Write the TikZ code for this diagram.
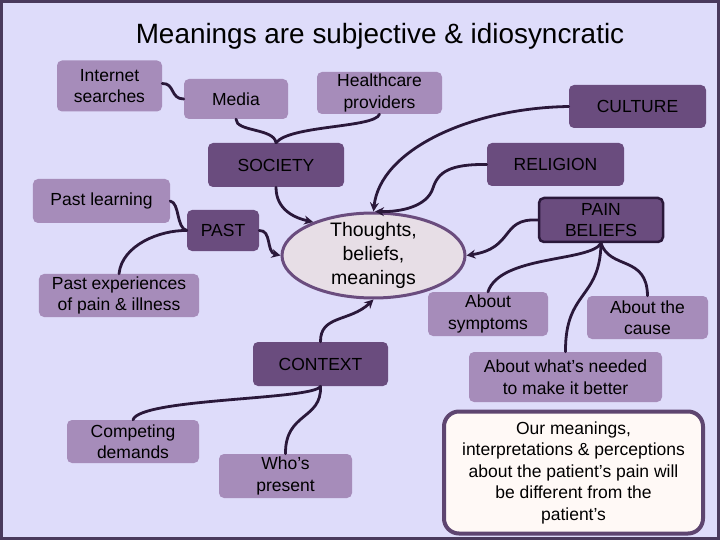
\documentclass[tikz,border=0pt]{standalone}
\usepackage{fontspec}
\setmainfont{Liberation Sans}
\usetikzlibrary{arrows.meta,shapes.geometric}
\definecolor{bgc}{RGB}{222,220,250}
\definecolor{framec}{RGB}{74,58,92}
\definecolor{lightc}{RGB}{166,140,186}
\definecolor{darkc}{RGB}{106,76,126}
\definecolor{linec}{RGB}{42,24,58}
\definecolor{ellfill}{RGB}{231,222,230}
\definecolor{ourfill}{RGB}{255,249,246}
\definecolor{ourdraw}{RGB}{94,69,112}
\begin{document}
\begin{tikzpicture}[x=1bp,y=-1bp,
  boxtext/.style={font=\fontsize{17.5bp}{21.5bp}\selectfont, align=center, inner sep=0pt, text=black},
  lightbox/.style={boxtext, fill=lightc, rounded corners=5bp},
  darkbox/.style={boxtext, fill=darkc, rounded corners=5bp},
  conn/.style={draw=linec, line width=2.8bp, line cap=round},
  arr/.style={conn, -{Stealth[length=9bp,width=9bp,inset=3bp]}}]
\useasboundingbox (0,0) rectangle (720,540);
\fill[bgc] (0,0) rectangle (720,540);
\draw[framec, line width=3bp] (1.5,1.5) rectangle (718.5,538.5);

\node[anchor=base, font=\fontsize{27.9bp}{33bp}\selectfont] (title) at (380,43.5) {Meanings are subjective \& idiosyncratic};

\node[lightbox, minimum width=105bp, minimum height=51bp] (internet) at (109.5,86) {Internet\\searches};
\node[lightbox, minimum width=104bp, minimum height=40bp] (media) at (236,99) {Media};
\node[lightbox, minimum width=125bp, minimum height=42bp] (health) at (379.5,93) {Healthcare\\providers};
\node[darkbox, minimum width=137bp, minimum height=43bp] (culture) at (637.5,106.5) {CULTURE};
\node[darkbox, minimum width=136bp, minimum height=44bp] (society) at (276,165) {SOCIETY};
\node[darkbox, minimum width=137bp, minimum height=43bp] (religion) at (555.5,164.5) {RELIGION};
\node[lightbox, minimum width=137bp, minimum height=44bp] (pastlearn) at (101.5,201) {Past learning};
\node[darkbox, minimum width=72bp, minimum height=41bp] (past) at (223,230.5) {PAST};
\node[lightbox, minimum width=160bp, minimum height=43bp] (pastexp) at (119,295.5) {Past experiences\\of pain \& illness};
\node[ellipse, draw=darkc, line width=3bp, fill=ellfill, minimum width=183bp, minimum height=85bp, inner sep=-10bp, align=center, font=\fontsize{19.5bp}{24bp}\selectfont] (thoughts) at (373.5,255.5) {Thoughts,\\beliefs,\\meanings};
\node[darkbox, draw=linec, line width=2.5bp, minimum width=124bp, minimum height=44bp] (pain) at (601,220) {PAIN\\BELIEFS};
\node[lightbox, minimum width=120bp, minimum height=44bp] (symptoms) at (488,314) {About\\symptoms};
\node[lightbox, minimum width=121bp, minimum height=43bp] (cause) at (647.5,317.5) {About the\\cause};
\node[darkbox, minimum width=135bp, minimum height=44bp] (context) at (320.5,364) {CONTEXT};
\node[lightbox, minimum width=132bp, minimum height=43bp] (competing) at (133,441.5) {Competing\\demands};
\node[lightbox, minimum width=133bp, minimum height=44bp] (whos) at (285.5,476) {Who’s\\present};
\node[lightbox, minimum width=193bp, minimum height=50bp] (needed) at (565.5,377) {About what’s needed\\to make it better};
\node[boxtext, draw=ourdraw, line width=4bp, fill=ourfill, rounded corners=15bp, minimum width=259bp, minimum height=122bp] (ours) at (573.5,472.5) {Our meanings,\\interpretations \& perceptions\\about the patient’s pain will\\be different from the\\patient’s};

% connectors
\draw[conn] ([yshift=2.5bp]internet.east) .. controls (175,83) and (170,99) .. (media.west);
\draw[conn] (media.south) .. controls (236,132) and (274,128) .. (society.north);
\draw[conn] (health.south) .. controls (375,128) and (290,125) .. (society.north);
\draw[arr] (society.south) .. controls (276,210) and (295,218) .. (thoughts.151);
\draw[arr] (culture.west) .. controls (470,108) and (380,150) .. (thoughts.north);
\draw[arr] (religion.west) .. controls (450,164) and (438,172) .. (433,188) .. controls (427,207) and (400,212) .. (thoughts.88);
\draw[arr] (past.east) .. controls (272,230) and (266,252) .. (thoughts.west);
\draw[conn] (pastlearn.east) .. controls (180,203) and (176,228) .. (past.west);
\draw[conn] (pastexp.north) .. controls (122,245) and (160,230) .. (past.west);
\draw[arr] (context.north) .. controls (320,315) and (350,322) .. (thoughts.south);
\draw[arr] (pain.west) .. controls (500,218) and (515,248) .. (thoughts.east);
\draw[conn] (pain.south) .. controls (590,262) and (500,255) .. (symptoms.north);
\draw[conn] (pain.south) .. controls (610,270) and (647,255) .. (cause.north);
\draw[conn] (pain.south) .. controls (600,300) and (565,290) .. (needed.north);
\draw[conn] (context.south) .. controls (315,400) and (140,398) .. (competing.north);
\draw[conn] (context.south) .. controls (322,420) and (285,412) .. (whos.north);
\end{tikzpicture}
\end{document}
